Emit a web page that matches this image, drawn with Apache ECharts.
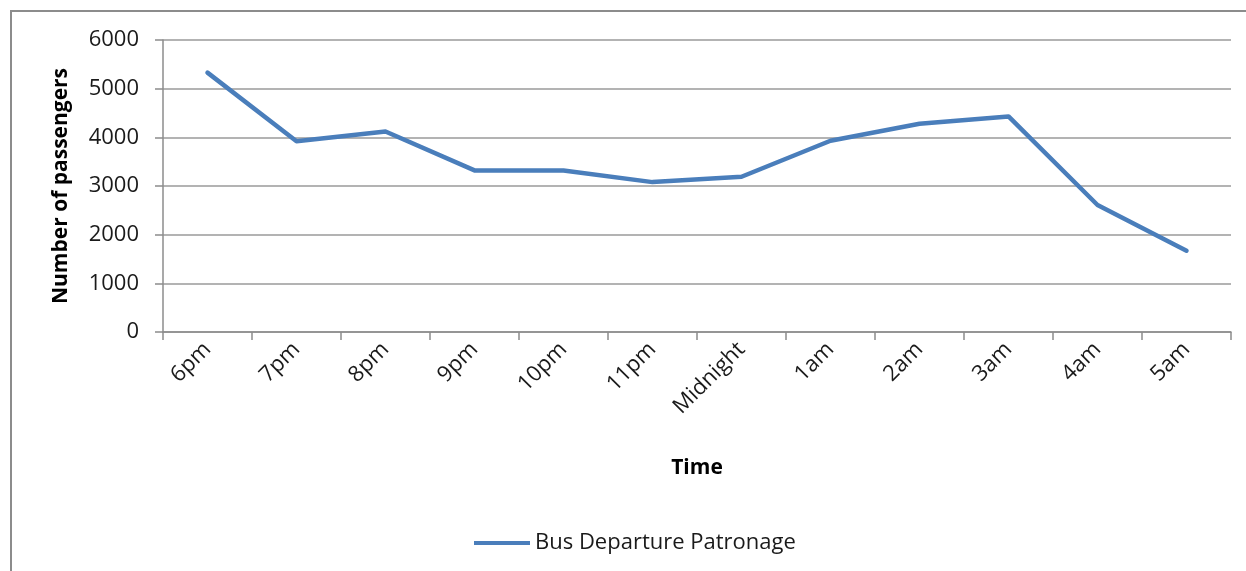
<!DOCTYPE html>
<html>
<head>
<meta charset="utf-8">
<script src="https://cdn.jsdelivr.net/npm/echarts@6/dist/echarts.min.js"></script>
<style>
html,body{margin:0;padding:0;background:#fff;}
#chart{width:1246px;height:571px;}
</style>
</head>
<body>
<div id="chart"></div>
<script>
var categories = ['6pm','7pm','8pm','9pm','10pm','11pm','Midnight','1am','2am','3am','4am','5am'];
var passengers = [5330, 3920, 4120, 3320, 3320, 3080, 3190, 3930, 4280, 4430, 2610, 1670];
var seriesName = 'Bus Departure Patronage';
var yTitle = 'Number of passengers';
var xTitle = 'Time';

var font = '"Open Sans", sans-serif';
var chart = echarts.init(document.getElementById('chart'));
chart.setOption({
  animation: false,
  backgroundColor: '#fff',
  graphic: [{
    type: 'rect',
    shape: {x: 11, y: 11, width: 1400, height: 800},
    style: {fill: 'none', stroke: '#8c8c8c', lineWidth: 2},
    silent: true
  }],
  grid: {left: 163, top: 40, right: 15, bottom: 239},
  legend: {
    left: 469, top: 527,
    data: [seriesName],
    icon: 'path://M0,0 L56,0 L56,4 L0,4 Z',
    itemWidth: 56, itemHeight: 4, itemGap: 4,
    textStyle: {fontFamily: font, fontSize: 22, color: '#1a1a1a'}
  },
  xAxis: {
    type: 'category',
    data: categories,
    boundaryGap: true,
    name: xTitle,
    nameLocation: 'middle',
    nameGap: 126,
    nameTextStyle: {fontFamily: font, fontSize: 21, fontWeight: 'bold', color: '#000'},
    axisLine: {lineStyle: {color: '#8c8c8c', width: 1.5}},
    axisTick: {show: true, length: 8, lineStyle: {color: '#8c8c8c', width: 1.5}},
    axisLabel: {rotate: 45, margin: 14, fontFamily: font, fontSize: 22, color: '#1a1a1a'},
    splitLine: {show: false}
  },
  yAxis: {
    type: 'value',
    min: 0, max: 6000, interval: 1000,
    name: yTitle,
    nameLocation: 'middle',
    nameRotate: 90,
    nameGap: 91,
    nameTextStyle: {fontFamily: font, fontSize: 21, fontWeight: 'bold', color: '#000'},
    axisLine: {show: true, lineStyle: {color: '#8c8c8c', width: 1.5}},
    axisTick: {show: true, length: 8, lineStyle: {color: '#8c8c8c', width: 1.5}},
    axisLabel: {margin: 24, fontFamily: font, fontSize: 22, color: '#1a1a1a',
      formatter: function (v) { return String(v); }},
    splitLine: {show: true, lineStyle: {color: '#9a9a9a', width: 1.5}}
  },
  series: [{
    name: seriesName,
    type: 'line',
    data: passengers,
    symbol: 'none',
    lineStyle: {color: '#4A7EBB', width: 4.5, join: 'round', cap: 'round'},
    itemStyle: {color: '#4A7EBB'}
  }]
});
</script>
</body>
</html>
